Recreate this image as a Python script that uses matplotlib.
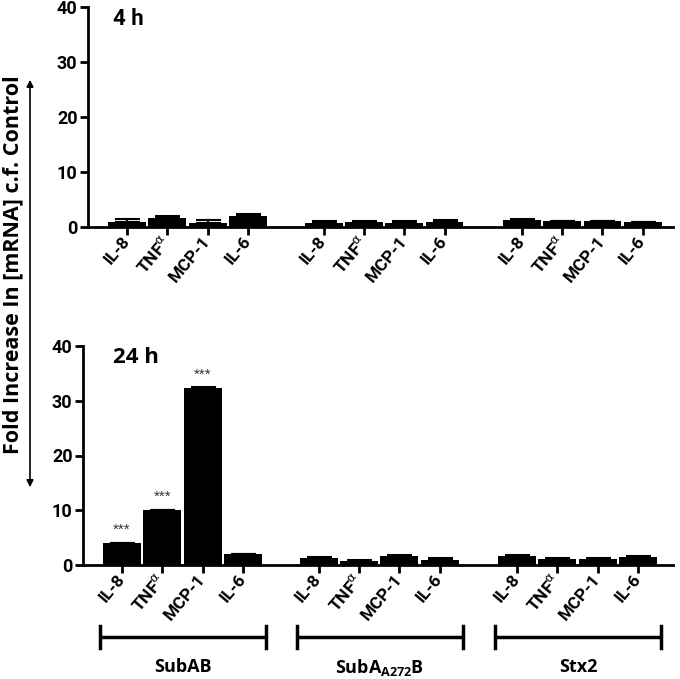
import matplotlib
matplotlib.use("Agg")
import matplotlib.pyplot as plt
import matplotlib.transforms as mtransforms
from matplotlib.patches import FancyArrowPatch
from matplotlib.lines import Line2D
from matplotlib.font_manager import FontProperties
import numpy as np

# ---------------- data ----------------
genes = ["IL-8", r"TNF$^{\alpha}$", "MCP-1", "IL-6"]
treatments = ["SubAB", r"SubA$_{\mathregular{A272}}$B", "Stx2"]
panels = ["4 h", "24 h"]

# 4 h values (SubAB, SubA_A272B, Stx2) x (IL-8, TNFa, MCP-1, IL-6)
vals_4h = [[0.9, 1.6, 0.7, 2.0],
           [0.8, 0.95, 0.8, 0.85],
           [1.35, 1.1, 1.1, 0.9]]
err_4h = [[0.5, 0.4, 0.6, 0.4],
          [0.3, 0.15, 0.2, 0.35],
          [0.1, 0.05, 0.05, 0.05]]
# 24 h values
vals_24h = [[4.0, 10.0, 32.4, 2.0],
            [1.2, 0.75, 1.65, 1.0],
            [1.7, 1.05, 1.1, 1.4]]
err_24h = [[0.1, 0.1, 0.15, 0.1],
           [0.3, 0.25, 0.2, 0.25],
           [0.05, 0.15, 0.2, 0.25]]
signif_24h = [["***", "***", "***", ""],
              ["", "", "", ""],
              ["", "", "", ""]]

yticks = [0, 10, 20, 30, 40]
ylabel = "Fold Increase In [mRNA] c.f. Control"

# ---------------- layout ----------------
W, H = 680, 679
arial = "Roboto"
calibri = "Open Sans"
plt.rcParams["mathtext.fontset"] = "custom"
plt.rcParams["mathtext.rm"] = "Roboto:bold"
plt.rcParams["mathtext.it"] = "DejaVu Sans"
fig = plt.figure(figsize=(W / 100, H / 100), dpi=100)

group_offsets = [0.0, 4.88, 9.8]
bar_w = 0.94

def px_rect(l, t, r, b):
    return [l / W, 1 - b / H, (r - l) / W, (b - t) / H]

ax_top = fig.add_axes(px_rect(88, 7, 673, 227))
ax_bot = fig.add_axes(px_rect(83, 346, 673, 565))

fp_ytick = FontProperties(family=arial, weight="bold", size=13)
fp_xtick = FontProperties(family=arial, weight="bold", size=12.5)

def style_axes(ax, xlim):
    for s in ["top", "right"]:
        ax.spines[s].set_visible(False)
    for s in ["left", "bottom"]:
        ax.spines[s].set_linewidth(2)
    ax.set_ylim(0, 40)
    ax.set_xlim(*xlim)
    ax.set_yticks(yticks, labels=[str(t) for t in yticks])
    for lab in ax.get_yticklabels():
        lab.set_fontproperties(fp_ytick)
    ax.tick_params(axis="y", length=6, width=2, pad=1.5)
    ax.tick_params(axis="x", length=6, width=2, pad=2)

def draw_panel(ax, vals, errs, sig):
    xs, labels = [], []
    for gi, off in enumerate(group_offsets):
        pos = off + np.arange(len(genes))
        ax.bar(pos, vals[gi], width=bar_w, color="black", edgecolor="none", zorder=2)
        lower = np.zeros(len(genes))
        ax.errorbar(pos, vals[gi], yerr=[lower, errs[gi]], fmt="none",
                    ecolor="black", elinewidth=1.5, capsize=9, capthick=1.5, zorder=3)
        if sig is not None:
            for p, v, e, s in zip(pos, vals[gi], errs[gi], sig[gi]):
                if s:
                    ax.text(p, v + 2.4, s, ha="center", va="center",
                            fontsize=11, color="#333333", fontfamily="Liberation Sans")
        xs.extend(pos)
        labels.extend(genes)
    ax.set_xticks(xs, labels=labels)
    for lab in ax.get_xticklabels():
        lab.set_fontproperties(fp_xtick)
        lab.set_rotation(50)
        lab.set_ha("right")
        lab.set_va("center")
        lab.set_rotation_mode("anchor")

style_axes(ax_top, (-0.968, 13.55))
style_axes(ax_bot, (-0.968, 13.67))
draw_panel(ax_top, vals_4h, err_4h, None)
draw_panel(ax_bot, vals_24h, err_24h, signif_24h)

# panel titles
fig.text(113 / W, 1 - 25 / H, panels[0], fontfamily=arial, fontweight="bold",
         fontsize=16, ha="left", va="baseline")
fig.text(113 / W, 1 - 363 / H, panels[1], fontfamily=calibri, fontweight="bold",
         fontsize=16, ha="left", va="baseline")

# y label and double arrow
fig.text(13 / W, 1 - 265 / H, ylabel, rotation=90, fontfamily=calibri,
         fontweight="bold", fontsize=15.5, ha="center", va="center")
arrow = FancyArrowPatch((30 / W, 1 - 490 / H), (30 / W, 1 - 77 / H),
                        transform=fig.transFigure, arrowstyle="<|-|>",
                        mutation_scale=10, lw=1.2, color="black")
fig.add_artist(arrow)

# treatment brackets under bottom panel
trans = mtransforms.blended_transform_factory(ax_bot.transData, fig.transFigure)
y_br = 1 - 637 / H
tick_h = 11 / H
for off, name in zip(group_offsets, treatments):
    x0, x1 = off - 0.55, off + 3 + 0.58
    fig.add_artist(Line2D([x0, x1], [y_br, y_br], transform=trans,
                          color="black", lw=2.5, solid_capstyle="butt"))
    for xx in (x0, x1):
        fig.add_artist(Line2D([xx, xx], [y_br - tick_h, y_br + tick_h],
                              transform=trans, color="black", lw=2.5))
    fig.text((x0 + x1) / 2, 1 - 667 / H, name, transform=trans, ha="center",
             va="center", fontfamily=calibri, fontweight="bold", fontsize=13)

fig.savefig("out.png", dpi=100)
